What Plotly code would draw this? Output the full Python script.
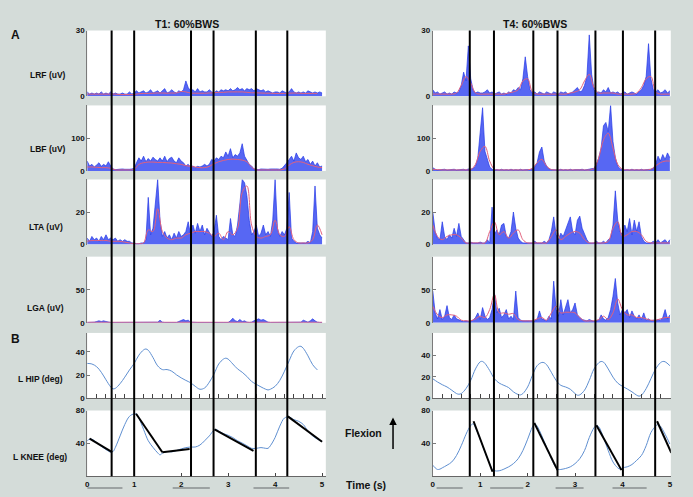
import numpy as np
import plotly.graph_objects as go
from plotly.subplots import make_subplots

W, H = 693, 497

# sample times (s)
t_emg = np.round(np.arange(0, 5.0001, 0.05), 2)
t_env = np.round(np.arange(0, 5.0001, 0.1), 1)

# ---------- T1 (left column) EMG, uV ----------
lrf_t1 = [2, 1, 1.5, 1, 1.5, 1, 2, 1, 1.5, 1, 2,
          1, 1.5, 1, 1, 1.5, 1, 1, 2, 1, 1.5,
          2.5, 1.5, 2, 2.5, 1.5, 2, 3, 1.5, 2, 2.5,
          1.5, 2.5, 3.5, 1.5, 2, 3, 2, 1.5, 2.5, 2,
          3, 7, 4, 2.5, 3, 2, 3.5, 2, 2.5, 2,
          2, 3, 2, 1.5, 2.5, 2, 3, 2.5, 3, 2.5,
          3.5, 2.5, 3, 4, 3, 3.5, 2.5, 3.5, 3, 3.5,
          2.5, 3.5, 3, 2.5, 3, 2, 2.5, 2, 1.5, 2,
          2, 1.5, 2.5, 2, 1.5, 2, 3.5, 2, 1.5, 2,
          1.5, 2, 1.5, 2.5, 2, 1.5, 2, 1.5, 2, 1.5]
lrf_t1_env = [1, 1, 1, 1, 1, 1, 1, 0.8, 0.8, 0.8, 0.8,
              1.2, 1.3, 1.3, 1.4, 1.5, 1.5, 1.4, 1.5, 1.5,
              2.2, 2, 1.5, 1.4, 1.4, 1.4, 1.5, 1.6, 1.8, 1.8,
              2, 2, 2, 2, 1.8, 1.6, 1.6, 1.5, 1.4, 1.4,
              1.3, 1.3, 1.3, 1.4, 1.5, 1.4, 1.3, 1.3, 1.3, 1.3]

lbf_t1 = [30, 15, 20, 12, 18, 25, 14, 20, 15, 28, 15,
          6, 4, 5, 4, 6, 5, 4, 5, 6, 8,
          25, 40, 30, 45, 28, 38, 30, 42, 35, 30,
          40, 30, 45, 28, 38, 42, 30, 25, 40, 30,
          25, 15, 20, 12, 15, 10, 14, 12, 15, 20,
          15, 20, 35, 30, 40, 35, 45, 40, 58, 45,
          68, 40, 50, 45, 55, 83, 45, 30, 20, 15,
          6, 5, 4, 6, 5, 4, 5, 6, 5, 6,
          6, 5, 8, 15, 25, 35, 45, 30, 55, 40,
          35, 45, 28, 35, 20, 30, 15, 25, 12, 15]
lbf_t1_env = [12, 12, 11, 10, 10, 8, 3, 3, 3, 3, 5,
              20, 25, 27, 27, 26, 26, 25, 24, 22, 20,
              16, 14, 12, 10, 10, 14, 22, 28, 32, 35,
              36, 35, 33, 28, 12, 3, 3, 3, 3, 3,
              3, 6, 18, 26, 28, 26, 20, 16, 12, 10]

lta_t1 = [4, 2, 5, 3, 4, 2, 5, 3, 6, 3, 4,
          3, 4, 2, 3, 2, 3, 2, 2, 1, 1,
          0.5, 0.5, 1, 1, 3, 29, 6, 10, 25, 40,
          15, 5, 8, 4, 6, 3, 7, 4, 8, 5,
          6, 8, 14, 6, 12, 7, 13, 8, 12, 6,
          10, 7, 5, 8, 18, 5, 3, 5, 4, 3,
          16, 6, 5, 12, 25, 40, 38, 30, 15, 6,
          8, 12, 5, 7, 12, 6, 8, 5, 15, 40,
          10, 5, 8, 6, 10, 32, 4, 2, 1, 1,
          1, 1, 1, 2, 1, 8, 36, 10, 6, 4]
lta_t1_env = [2, 2.5, 2.5, 2.5, 2.5, 2, 2, 2, 1.5, 1, 0.5,
              0.5, 1, 9, 8, 22, 8, 4, 3, 4, 4,
              6, 7, 8, 8, 8, 7, 5, 7, 3, 8,
              6, 10, 32, 36, 12, 5, 4, 5, 6, 15,
              6, 5, 11, 3, 1, 1, 1, 3, 12, 6]

lga_t1 = [0.5, 0.5, 0.5, 1, 2, 3, 2, 3, 2, 1, 0.5,
          0.5, 0.5, 0.5, 0.5, 0.5, 0.5, 0.5, 0.5, 0.5, 0.5,
          0.5, 0.5, 0.5, 0.5, 0.5, 0.5, 0.5, 0.5, 0.5, 1,
          4, 1, 0.5, 0.5, 0.5, 0.5, 0.5, 0.5, 2, 4,
          5, 3, 4, 1, 0.5, 0.5, 0.5, 0.5, 0.5, 0.5,
          0.5, 0.5, 0.5, 0.5, 0.5, 0.5, 0.5, 0.5, 1, 0.5,
          3, 7, 3, 2, 5, 2, 3, 1, 0.5, 1,
          3, 5, 6, 4, 5, 3, 1, 0.5, 0.5, 0.5,
          0.5, 0.5, 0.5, 0.5, 0.5, 0.5, 0.5, 0.5, 0.5, 0.5,
          1, 4, 2, 1, 3, 6, 3, 1, 0.5, 0.5]
lga_t1_env = [0.8] * 51

# ---------- T4 (right column) EMG, uV ----------
lrf_t4 = [3, 1.5, 2, 1, 1.5, 2, 1, 1.5, 1, 2, 1.5,
          2, 5, 11, 7, 23, 8, 3, 1.5, 2, 1.5,
          1.5, 2, 3, 1.5, 2, 1, 1.5, 2, 1, 1.5,
          1, 2, 1.5, 3, 2.5, 4, 3, 8, 18, 9,
          3, 1.5, 2, 1, 2, 1.5, 1, 2, 1.5, 1,
          2, 1.5, 1, 2, 1.5, 2, 1, 1.5, 2, 3,
          4, 2, 2.5, 5, 9, 28, 10, 3, 1.5, 2,
          1.5, 3, 2, 4, 1.5, 2, 1.5, 2, 1, 1.5,
          2, 1, 1.5, 2, 1.5, 1, 2, 3, 5, 9,
          24, 8, 3, 2, 3, 1.5, 2, 3, 1.5, 2.5]
lrf_t4_env = [1, 1, 1, 1, 1, 1.5, 5, 9, 6, 1.5, 1,
              1, 1, 1, 1, 1, 1.5, 2, 3, 7, 8,
              2, 1, 1, 1, 1, 1, 1, 1, 1.5, 2,
              3, 7, 10, 4, 1.5, 1.5, 1.5, 1.5, 1, 1,
              1, 1, 1.5, 4, 8, 9, 2, 1, 1, 1]

lbf_t4 = [10, 5, 3, 4, 3, 5, 3, 4, 3, 5, 3,
          4, 3, 5, 3, 6, 5, 8, 15, 40, 118,
          193, 60, 35, 12, 5, 3, 4, 3, 5, 3,
          4, 3, 5, 3, 4, 3, 5, 3, 4, 3,
          4, 6, 12, 25, 58, 73, 30, 15, 6, 4,
          3, 4, 3, 5, 3, 4, 3, 5, 3, 4,
          3, 4, 5, 3, 4, 5, 6, 8, 20, 40,
          70, 138, 148, 120, 200, 90, 40, 15, 6, 4,
          3, 4, 3, 5, 3, 4, 3, 5, 3, 4,
          4, 5, 8, 20, 45, 30, 50, 35, 55, 40]
lbf_t4_env = [5, 4, 3, 3, 3, 3, 3, 3, 4, 20, 60,
              75, 30, 5, 3, 3, 3, 3, 3, 3, 3,
              8, 25, 35, 15, 4, 3, 3, 3, 3, 3,
              3, 3, 3, 8, 40, 95, 115, 70, 20, 5,
              3, 3, 3, 3, 3, 5, 15, 25, 30, 30]

lta_t4 = [20, 8, 4, 3, 14, 5, 3, 6, 4, 10, 5,
          13, 5, 3, 1, 1, 1.5, 1, 1, 1, 1.5,
          1, 1, 3, 1, 23, 6, 9, 6, 12, 13,
          5, 4, 8, 20, 10, 4, 2, 1, 1, 1,
          1, 1, 2, 1, 1, 1, 2, 1, 3, 8,
          17, 6, 3, 7, 5, 9, 12, 17, 8, 6,
          15, 17.5, 10, 6, 3, 1, 1, 1, 2, 1,
          1, 2, 1, 3, 4, 12, 33, 15, 8, 6,
          12, 8, 16, 6, 15, 8, 14, 5, 2, 1,
          1, 1, 2, 1, 3, 1, 2, 3, 1, 3]
lta_t4_env = [12, 5, 3, 5, 6, 6, 4, 1, 1, 1, 1,
              1, 8, 14, 6, 8, 4, 7, 9, 3, 1,
              1, 1, 1, 1, 5, 9, 3, 5, 7, 8,
              7, 3, 1, 1, 1, 1, 2, 10, 14, 5,
              6, 8, 8, 6, 2, 1, 1, 1, 1, 1]

lga_t4 = [48, 15, 6, 20, 5, 10, 26, 8, 5, 12, 6,
          4, 3, 2, 3, 2, 3, 4, 8, 15, 5,
          23, 10, 5, 8, 20, 45, 15, 22, 8, 12,
          20, 6, 10, 5, 48, 8, 4, 3, 3, 2,
          3, 2, 3, 5, 18, 6, 4, 3, 10, 6,
          63, 20, 10, 35, 12, 25, 35, 15, 20, 30,
          12, 8, 5, 4, 3, 5, 3, 2, 3, 4,
          12, 6, 4, 8, 20, 40, 67, 30, 12, 20,
          15, 20, 8, 18, 10, 6, 12, 5, 15, 4,
          6, 3, 4, 3, 5, 4, 8, 20, 6, 12]
lga_t4_env = [25, 12, 8, 12, 12, 10, 4, 3, 3, 6, 10,
              8, 20, 43, 15, 15, 13, 14, 5, 3, 3,
              3, 6, 8, 4, 15, 25, 15, 16, 16, 15,
              8, 3, 3, 3, 5, 10, 5, 15, 36, 20,
              12, 12, 8, 8, 6, 4, 4, 6, 8, 8]

# ---------- kinematics, deg ----------
hip_t1_x = [0, 0.1, 0.2, 0.3, 0.4, 0.5, 0.55, 0.6, 0.7, 0.8, 0.9, 1.0, 1.1, 1.2, 1.25, 1.3, 1.4, 1.5,
            1.6, 1.7, 1.8, 1.9, 2.0, 2.1, 2.2, 2.3, 2.4, 2.5, 2.6, 2.7, 2.8, 2.9, 2.95, 3.0, 3.1, 3.2,
            3.3, 3.4, 3.5, 3.6, 3.7, 3.8, 3.85, 3.9, 4.0, 4.1, 4.2, 4.3, 4.4, 4.5, 4.55, 4.6, 4.7,
            4.8, 4.9]
hip_t1 = [30.1, 29.6, 27.3, 22.5, 16, 9.9, 8.2, 8.7, 12.7, 18.3, 24.5, 30.1, 37.2, 41.7, 42.5, 41.4,
          35.2, 28, 24.8, 24.8, 23.4, 20.3, 17.7, 15.5, 13.5, 10.4, 7.9, 9, 14, 21, 29.6, 33.8, 34.6,
          33.8, 29.6, 25.4, 22.5, 18.9, 14.6, 12.1, 9.9, 7.9, 7.3, 7.9, 10.4, 15.5, 23.4, 32.4, 40.8,
          44.5, 44.8, 43.1, 36.6, 29, 24.5]

hip_t4_x = [0, 0.1, 0.2, 0.3, 0.4, 0.5, 0.55, 0.6, 0.7, 0.8, 0.9, 1.0, 1.05, 1.1, 1.2, 1.3, 1.4, 1.5,
            1.6, 1.7, 1.8, 1.85, 1.9, 2.0, 2.1, 2.2, 2.3, 2.35, 2.4, 2.5, 2.6, 2.7, 2.8, 2.9, 3.0, 3.05,
            3.1, 3.2, 3.3, 3.4, 3.5, 3.55, 3.6, 3.7, 3.8, 3.9, 4.0, 4.1, 4.2, 4.3, 4.35, 4.4, 4.5,
            4.6, 4.7, 4.8, 4.85, 4.9, 5.0]
hip_t4 = [18.2, 15.2, 12.7, 10.6, 7.6, 4.5, 3.9, 4.5, 9.1, 16.7, 27.3, 33.9, 34.2, 32.4, 25.8, 18.2,
          14.2, 12.1, 10, 6.1, 3.6, 3.3, 4.5, 10.6, 21.2, 30.3, 33.3, 33, 31.2, 24.2, 16.7, 12.1,
          10.6, 8.5, 4.5, 3, 3.3, 7.6, 16.7, 27.3, 33, 34.2, 33.6, 27.3, 19.7, 14.2, 11.2, 8.8, 6.1,
          3, 2.1, 3, 9.1, 18.2, 27.3, 33, 34.2, 33.9, 30.3]

knee_t1_x = [0, 0.05, 0.1, 0.2, 0.3, 0.4, 0.5, 0.55, 0.6, 0.7, 0.8, 0.9, 1.0, 1.05, 1.1, 1.2, 1.3, 1.4,
             1.5, 1.55, 1.6, 1.7, 1.8, 1.9, 2.0, 2.1, 2.2, 2.3, 2.4, 2.5, 2.6, 2.7, 2.75, 2.8, 2.9,
             3.0, 3.1, 3.2, 3.3, 3.4, 3.5, 3.6, 3.7, 3.8, 3.85, 3.9, 4.0, 4.1, 4.2, 4.3, 4.4, 4.5,
             4.6, 4.7, 4.8, 4.9, 5.0]
knee_t1 = [43.2, 45.1, 45.1, 41.2, 36.4, 32.5, 29.3, 30.1, 35.2, 49.1, 63, 72.9, 76, 75.6, 70.9, 57,
           43.2, 35.2, 28.5, 26.1, 28.1, 30.1, 29.7, 31.3, 33.3, 34.9, 35.6, 35.6, 38, 43.2, 49.1,
           56.2, 57, 55, 51.9, 49.9, 47.1, 43.2, 40.4, 37.2, 34, 34, 34.9, 34, 34, 37.2, 47.1, 61,
           70.9, 72.1, 68.9, 66.9, 63, 55, 49.1, 45.1, 42.4]

knee_t4_x = [0, 0.05, 0.1, 0.15, 0.2, 0.3, 0.4, 0.5, 0.6, 0.7, 0.75, 0.8, 0.85, 0.9, 1.0, 1.1, 1.2,
             1.25, 1.3, 1.4, 1.5, 1.6, 1.7, 1.8, 1.9, 2.0, 2.1, 2.15, 2.2, 2.3, 2.4, 2.5, 2.6, 2.65,
             2.7, 2.8, 2.9, 3.0, 3.1, 3.2, 3.3, 3.4, 3.45, 3.5, 3.6, 3.7, 3.8, 3.9, 3.95, 4.0, 4.1,
             4.2, 4.3, 4.4, 4.5, 4.6, 4.7, 4.75, 4.8, 4.9, 5.0]
knee_t4 = [13.5, 10.3, 8.3, 8.7, 10.3, 13.5, 17.4, 25.3, 37.2, 51.1, 57, 61.8, 63.8, 59, 45.1, 29.3,
           15.4, 8.7, 6.7, 6.7, 8.7, 11.5, 15.4, 21.4, 31.3, 45.1, 59.8, 63.8, 61, 49.1, 35.2, 21.4,
           10.3, 8.3, 8.3, 9.5, 11.5, 15.4, 21.4, 31.3, 47.1, 59, 61.8, 60.2, 47.1, 31.3, 17.4,
           10.3, 8.7, 10.3, 11.5, 14.3, 19.4, 25.3, 37.2, 53.1, 61, 63, 61, 51.1, 39.2]

# straight-line fits over the knee (start t, end t, start deg, end deg)
knee_t1_fits = [(0.05, 0.53, 45.9, 29.3), (1.04, 1.6, 76, 29.3), (1.6, 2.18, 29.3, 33.3),
                (2.71, 3.54, 57, 30.9), (4.27, 5.0, 72.9, 42)]
knee_t4_fits = [(0.86, 1.26, 66.9, 5.5), (2.14, 2.63, 65, 7.5), (3.45, 3.98, 62.2, 7.5),
                (4.73, 5.03, 66.9, 28.5)]

# gait events (s) and stance bars under the time axis
events_t1 = [0.52, 1.0, 2.21, 2.69, 3.59, 4.26]
events_t4 = [0.78, 1.29, 2.12, 2.63, 3.43, 4.01, 4.69]
stance_t1 = [(0, 0.75), (1.82, 2.61), (3.54, 4.3)]
stance_t4 = [(0.08, 0.63), (1.21, 1.91), (2.59, 3.18), (3.79, 4.51)]

emg_rows = [
    ("LRF (uV)", lrf_t1, lrf_t1_env, lrf_t4, lrf_t4_env, 30, [0, 30], ["0", "30"]),
    ("LBF (uV)", lbf_t1, lbf_t1_env, lbf_t4, lbf_t4_env, 200, [0, 100, 200], ["0", "100", ""]),
    ("LTA (uV)", lta_t1, lta_t1_env, lta_t4, lta_t4_env, 40, [0, 20, 40], ["0", "20", ""]),
    ("LGA (uV)", lga_t1, lga_t1_env, lga_t4, lga_t4_env, 100, [0, 50, 100], ["0", "50", ""]),
]

BLUE = "#2438e6"
BLUE_FILL = "rgba(45,65,240,0.8)"
RED = "#e2607c"
KIN = "#5f8fd0"
FONT = "Liberation Sans"
BG = "#d4dcd9"

fig = make_subplots(rows=6, cols=2)


def px2x(px):
    return px / W


def px2y(py):
    return 1 - py / H


col_dom = [(85.7, 325.7), (433.3, 672.7)]
row_dom = [(27, 94), (103.3, 170), (178.7, 245), (257.3, 324.7), (335, 401.7), (414, 481)]
xr = [[0, 5.08], [0, 5.02]]

for r in range(6):
    for c in range(2):
        n = r * 2 + c + 1
        xa = "xaxis" if n == 1 else "xaxis%d" % n
        ya = "yaxis" if n == 1 else "yaxis%d" % n
        fig.layout[xa].domain = [px2x(col_dom[c][0]), px2x(col_dom[c][1])]
        fig.layout[ya].domain = [px2y(row_dom[r][1]), px2y(row_dom[r][0])]
        fig.layout[xa].range = xr[c]

tick_font = dict(family=FONT, size=8, color="#111", weight="bold")

for r, (name, b1, e1, b4, e4, ymax, tv, tt) in enumerate(emg_rows):
    for c, (b, e) in enumerate([(b1, e1), (b4, e4)]):
        fig.add_trace(go.Scatter(x=t_emg, y=b, mode="lines", line=dict(color=BLUE, width=0.7),
                                 fill="tozeroy", fillcolor=BLUE_FILL, showlegend=False),
                      row=r + 1, col=c + 1)
        fig.add_trace(go.Scatter(x=t_env, y=e, mode="lines", line=dict(color=RED, width=1, shape="spline"),
                                 showlegend=False), row=r + 1, col=c + 1)
        fig.update_yaxes(range=[0, ymax], tickvals=tv, ticktext=tt, row=r + 1, col=c + 1)
        fig.update_xaxes(showticklabels=False, ticks="", showline=False, row=r + 1, col=c + 1)

# hip
for c, (hx, hy, top) in enumerate([(hip_t1_x, hip_t1, 56.3), (hip_t4_x, hip_t4, 60.6)]):
    fig.add_trace(go.Scatter(x=hx, y=hy, mode="lines", line=dict(color=KIN, width=1, shape="spline"),
                             showlegend=False), row=5, col=c + 1)
    fig.update_yaxes(range=[0, top], tickvals=[0, 20, 40], row=5, col=c + 1)
    fig.update_xaxes(showticklabels=False, ticks="inside", dtick=0.2, tick0=0, ticklen=4,
                     tickcolor="#444", showline=True, linecolor="#666", row=5, col=c + 1)

# knee
for c, (kx, ky, fits) in enumerate([(knee_t1_x, knee_t1, knee_t1_fits), (knee_t4_x, knee_t4, knee_t4_fits)]):
    fig.add_trace(go.Scatter(x=kx, y=ky, mode="lines", line=dict(color=KIN, width=1, shape="spline"),
                             showlegend=False), row=6, col=c + 1)
    sx, sy = [], []
    for (a, b, ya_, yb_) in fits:
        sx += [a, b, None]
        sy += [ya_, yb_, None]
    fig.add_trace(go.Scatter(x=sx, y=sy, mode="lines", line=dict(color="black", width=2),
                             showlegend=False), row=6, col=c + 1)
    fig.update_yaxes(range=[0, 80], tickvals=[40, 80], row=6, col=c + 1)
    fig.update_xaxes(tickvals=[0, 1, 2, 3, 4, 5], ticks="inside", ticklen=3, tickcolor="#444",
                     showline=True, linecolor="#666", tickfont=tick_font, row=6, col=c + 1)

fig.update_yaxes(showgrid=False, zeroline=False, showline=True, linecolor="#7a7a7a", ticks="inside",
                 ticklen=3, tickcolor="#7a7a7a", tickfont=tick_font)
fig.update_xaxes(showgrid=False, zeroline=False)

# gait event lines across all panels
y_lo, y_hi = px2y(481), px2y(27)
for c, evs in enumerate([events_t1, events_t4]):
    xref = "x" if c == 0 else "x2"
    for ev in evs:
        fig.add_shape(type="line", xref=xref, yref="paper", x0=ev, x1=ev, y0=y_lo, y1=y_hi,
                      line=dict(color="black", width=2), layer="above")

# stance bars under the time axis
for c, bars in enumerate([stance_t1, stance_t4]):
    xref = "x11" if c == 0 else "x12"
    for (a, b) in bars:
        fig.add_shape(type="line", xref=xref, yref="paper", x0=a, x1=b, y0=px2y(493), y1=px2y(493),
                      line=dict(color="#8a8f8f", width=1.5))


def label(text, px, py, size):
    fig.add_annotation(x=px2x(px), y=px2y(py), xref="paper", yref="paper", text="<b>%s</b>" % text,
                       showarrow=False, xanchor="center", yanchor="middle",
                       font=dict(family=FONT, size=size, color="#111"))


label("T1: 60%BWS", 186, 20, 10.5)
label("T4: 60%BWS", 536, 20, 10.5)
label("A", 14, 32, 12)
label("B", 14, 341, 12)
label("LRF (uV)", 46.5, 72, 8.5)
label("LBF (uV)", 46.5, 148, 8.5)
label("LTA (uV)", 44.5, 227, 8.5)
label("LGA (uV)", 44, 310, 8.5)
label("L HIP (deg)", 38.7, 382, 8.5)
label("L KNEE (deg)", 38.3, 461, 8.5)
label("Flexion", 364, 437, 10.5)
label("Time (s)", 366, 490, 10.5)

fig.add_annotation(x=px2x(393.3), y=px2y(421), xref="paper", yref="paper", text="", showarrow=True,
                   ax=0, ay=33, arrowhead=2, arrowsize=1, arrowwidth=1.5, arrowcolor="black")

fig.update_layout(width=W, height=H, margin=dict(l=0, r=0, t=0, b=0), paper_bgcolor=BG,
                  plot_bgcolor="white", showlegend=False, font=dict(family=FONT))

# drop the browser's default 8px page margin so the figure sits at the window corner
fig.write_html("out.html", config={"displayModeBar": False},
               post_script="document.body.style.margin='0px';")
